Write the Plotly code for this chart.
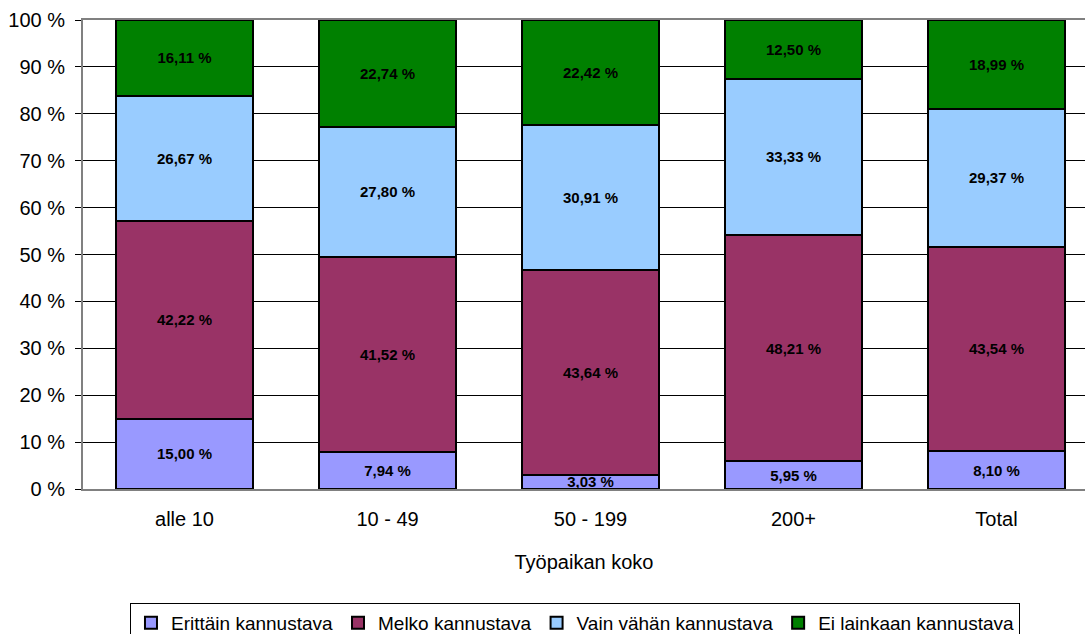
import plotly.graph_objects as go

categories = ["alle 10", "10 - 49", "50 - 199", "200+", "Total"]

series_names = [
    "Erittäin kannustava",
    "Melko kannustava",
    "Vain vähän kannustava",
    "Ei lainkaan kannustava",
]

erittain = [15.00, 7.94, 3.03, 5.95, 8.10]
melko = [42.22, 41.52, 43.64, 48.21, 43.54]
vain_vahan = [26.67, 27.80, 30.91, 33.33, 29.37]
ei_lainkaan = [16.11, 22.74, 22.42, 12.50, 18.99]

y_ticks = [0, 10, 20, 30, 40, 50, 60, 70, 80, 90, 100]
x_title = "Työpaikan koko"

colors = ["#9999FF", "#993366", "#99CCFF", "#008000"]
FONT = "Arial, Liberation Sans, sans-serif"


def fi_label(v):
    return f"{v:.2f}".replace(".", ",") + " %"


fig = go.Figure()
for name, vals, col in zip(series_names, [erittain, melko, vain_vahan, ei_lainkaan], colors):
    fig.add_trace(go.Bar(
        name=name,
        x=categories,
        y=vals,
        width=0.67,
        marker=dict(color=col, line=dict(color="black", width=2)),
        text=[fi_label(v) for v in vals],
        textposition="inside",
        insidetextanchor="middle",
        constraintext="none",
        textangle=0,
        textfont=dict(family=FONT, size=15, color="black", weight="bold"),
        hoverinfo="skip",
    ))

fig.update_layout(
    barmode="stack",
    width=1085,
    height=634,
    margin=dict(l=83, r=0, t=20, b=145, autoexpand=False),
    paper_bgcolor="white",
    plot_bgcolor="white",
    font=dict(family=FONT, size=20, color="black"),
    showlegend=True,
    legend=dict(
        orientation="h",
        x=0.491,
        xanchor="center",
        y=-0.243,
        yanchor="top",
        bordercolor="black",
        borderwidth=1,
        font=dict(family=FONT, size=19, color="black"),
        traceorder="normal",
        itemwidth=30,
    ),
    xaxis=dict(
        range=[-0.5, 4.436],
        showgrid=False,
        showline=True,
        linecolor="#808080",
        linewidth=2,
        mirror=True,
        ticks="",
        ticklabelstandoff=11,
        title=dict(text=x_title, font=dict(size=20), standoff=26),
        fixedrange=True,
    ),
    yaxis=dict(
        range=[0, 100],
        tickvals=y_ticks,
        ticktext=[f"{t} %" for t in y_ticks],
        showgrid=True,
        gridcolor="black",
        gridwidth=1,
        zeroline=False,
        showline=True,
        linecolor="#808080",
        linewidth=2,
        ticks="outside",
        ticklen=6,
        tickcolor="black",
        ticklabelstandoff=6,
        fixedrange=True,
    ),
)

fig.write_html("out.html")
